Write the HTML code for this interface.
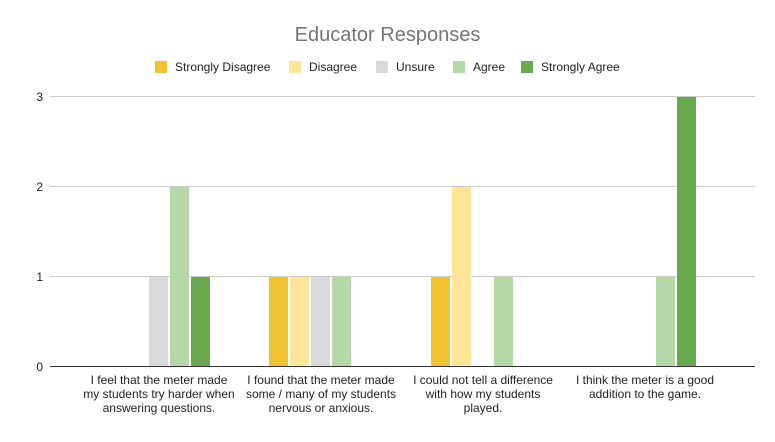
<!DOCTYPE html>
<html><head><style>html,body{margin:0;padding:0;background:#fff}</style></head>
<body>
<svg width="775" height="437" xmlns="http://www.w3.org/2000/svg" font-family="Liberation Sans, sans-serif">
<rect width="775" height="437" fill="#fff"/>
<text x="387.5" y="41" text-anchor="middle" font-size="20" fill="#757575">Educator Responses</text>
<g font-size="12" fill="#222">
<rect x="155" y="61" width="12" height="12" fill="#f1c232"/><text x="175" y="71">Strongly Disagree</text>
<rect x="289" y="61" width="12" height="12" fill="#ffe599"/><text x="309" y="71">Disagree</text>
<rect x="376" y="61" width="12" height="12" fill="#d9d9d9"/><text x="396" y="71">Unsure</text>
<rect x="453" y="61" width="12" height="12" fill="#b6d7a8"/><text x="473" y="71">Agree</text>
<rect x="521" y="61" width="12" height="12" fill="#6aa84f"/><text x="541" y="71">Strongly Agree</text>
</g>
<g stroke="#ccc" stroke-width="1">
<line x1="50" x2="755" y1="96.5" y2="96.5"/>
<line x1="50" x2="755" y1="186.5" y2="186.5"/>
<line x1="50" x2="755" y1="276.5" y2="276.5"/>
</g>
<g font-size="12" fill="#222" text-anchor="end">
<text x="43" y="101">3</text><text x="43" y="191">2</text><text x="43" y="281">1</text><text x="43" y="371">0</text>
</g>
<!-- group 1 -->
<rect x="149" y="277" width="19" height="90" fill="#d9d9d9"/>
<rect x="170" y="187" width="19" height="180" fill="#b6d7a8"/>
<rect x="191" y="277" width="19" height="90" fill="#6aa84f"/>
<!-- group 2 -->
<rect x="269" y="277" width="19" height="90" fill="#f1c232"/>
<rect x="290" y="277" width="19" height="90" fill="#ffe599"/>
<rect x="311" y="277" width="19" height="90" fill="#d9d9d9"/>
<rect x="332" y="277" width="19" height="90" fill="#b6d7a8"/>
<!-- group 3 -->
<rect x="431" y="277" width="19" height="90" fill="#f1c232"/>
<rect x="452" y="187" width="19" height="180" fill="#ffe599"/>
<rect x="494" y="277" width="19" height="90" fill="#b6d7a8"/>
<!-- group 4 -->
<rect x="656" y="277" width="19" height="90" fill="#b6d7a8"/>
<rect x="677" y="97" width="19" height="270" fill="#6aa84f"/>
<line x1="50" x2="755" y1="366.5" y2="366.5" stroke="#333" stroke-width="1"/>
<g font-size="12" fill="#222" text-anchor="middle">
<text x="159" y="384">I feel that the meter made</text>
<text x="159" y="398">my students try harder when</text>
<text x="159" y="412">answering questions.</text>
<text x="321" y="384">I found that the meter made</text>
<text x="321" y="398">some / many of my students</text>
<text x="321" y="412">nervous or anxious.</text>
<text x="483" y="384">I could not tell a difference</text>
<text x="483" y="398">with how my students</text>
<text x="483" y="412">played.</text>
<text x="645" y="384">I think the meter is a good</text>
<text x="645" y="398">addition to the game.</text>
</g>
</svg>
</body></html>
